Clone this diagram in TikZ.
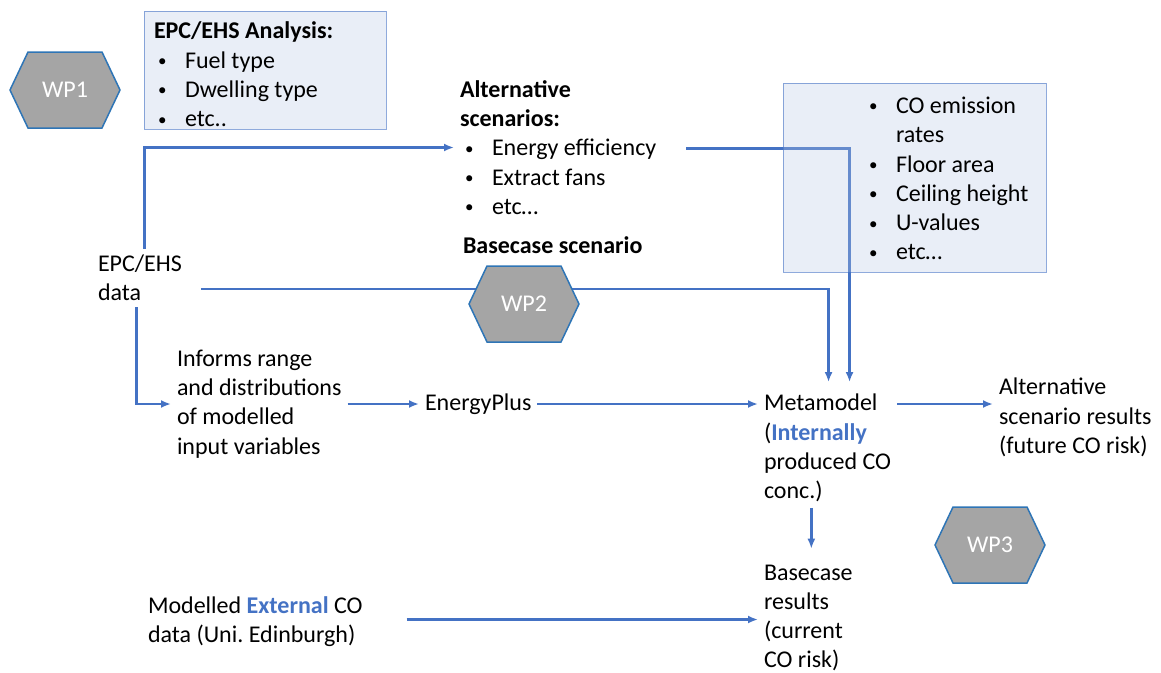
\documentclass[tikz,border=0pt]{standalone}
\usepackage{fontspec}
\setmainfont{Carlito}
\usetikzlibrary{arrows.meta}
\definecolor{linkblue}{HTML}{4472C4}
\definecolor{hexgray}{HTML}{A5A5A5}
\definecolor{hexblue}{HTML}{2E75B6}
\definecolor{boxfill}{RGB}{182,198,228}
\newcommand{\bul}{\makebox[27pt][l]{\raisebox{1.5pt}{\fontsize{17}{17}\selectfont\textbullet}}}
\newcommand{\wphex}[3]{%
  \filldraw[hexshape] (#2) ++(-55,0) -- ++(18,-38) -- ++(74,0) -- ++(18,38) -- ++(-18,38) -- ++(-74,0) -- cycle;
  \node[hexlabel] (#1) at (#2) {#3};}
\tikzset{
  txt/.style={font=\fontsize{24}{29.3}\selectfont, align=left, inner sep=0pt, outer sep=6pt, anchor=west},
  link/.style={draw=linkblue, line width=2.9pt},
  infobox/.style={fill=boxfill, fill opacity=0.3, draw=linkblue, draw opacity=0.6, line width=1pt},
  hexshape/.style={fill=hexgray, draw=hexblue, line width=1.5pt, line join=miter},
  hexlabel/.style={font=\fontsize{24}{28}\selectfont, text=white}
}
\frenchspacing
\begin{document}
\begin{tikzpicture}[x=1pt,y=-1pt,>={Latex[length=10pt,width=8pt]}]
    \useasboundingbox (0,0) rectangle (1161,672);
    % text nodes
    \node[txt] (epcdata) at (92,278) {EPC/EHS\\data};
    \node[txt] (alt) at (454,147.5) {\textbf{Alternative}\\\textbf{scenarios:}\\\hspace*{5pt}\bul Energy efficiency\\\hspace*{5pt}\bul Extract fans\\\hspace*{5pt}\bul etc…};
    \node[txt] (basescen) at (457,245) {\textbf{Basecase scenario}};
    \node[txt] (inform) at (171,404) {Informs range\\and distributions\\of modelled\\input variables};
    \node[txt] (energy) at (419,404) {EnergyPlus};
    \node[txt] (meta) at (758,448) {Metamodel\\(\textcolor{linkblue}{\textbf{Internally}}\\produced CO\\conc.)};
    \node[txt] (altres) at (993,417.5) {Alternative\\scenario results\\(future CO risk)};
    \node[txt] (basecase) at (758,618) {Basecase\\results\\(current\\CO risk)};
    \node[txt] (ext) at (142,621.5) {Modelled \textcolor{linkblue}{\textbf{External}} CO\\data (Uni. Edinburgh)};
    % connectors
    \draw[link,->] ([shift={(5,0)}]epcdata.north) |- (alt.west);
    \draw[link,->] ([shift={(-3,0)}]epcdata.south) |- (inform.west);
    \draw[link,->] ([shift={(13,11)}]epcdata.east) -| ([shift={(1,-6)}]meta.north);
    \draw[link,->] ([shift={(24,1)}]alt.east) -| ([shift={(22,-6)}]meta.north);
    \draw[link,->] (inform.east |- energy) -- (energy.west);
    \draw[link,->] (energy.east) -- (energy.east -| meta.west);
    \draw[link,->] (energy.east -| meta.east) -- (energy.east -| altres.west);
    \draw[link,->] ([shift={(3,0)}]basecase.north |- meta.south) -- ([shift={(3,-10)}]basecase.north);
    \draw[link,->] ([shift={(38,-2)}]ext.east) -- ([shift={(0,-2)}]ext.east -| basecase.west);
    % boxes
    \filldraw[infobox] (144,11) rectangle (386,129);
    \filldraw[infobox] (783,83) rectangle (1046,272);
    \node[txt] (epcbox) at (148,74.5) {\textbf{EPC/EHS Analysis:}\\\hspace*{4pt}\bul Fuel type\\\hspace*{4pt}\bul Dwelling type\\\hspace*{4pt}\bul etc..};
    \node[txt] (params) at (863,178.5) {\bul CO emission\\\hspace*{27pt}rates\\\bul Floor area\\\bul Ceiling height\\\bul U-values\\\bul etc…};
    % work packages
    \wphex{wpone}{65,90}{WP1}
    \wphex{wptwo}{524,304}{WP2}
    \wphex{wpthree}{990,545}{WP3}
\end{tikzpicture}
\end{document}
